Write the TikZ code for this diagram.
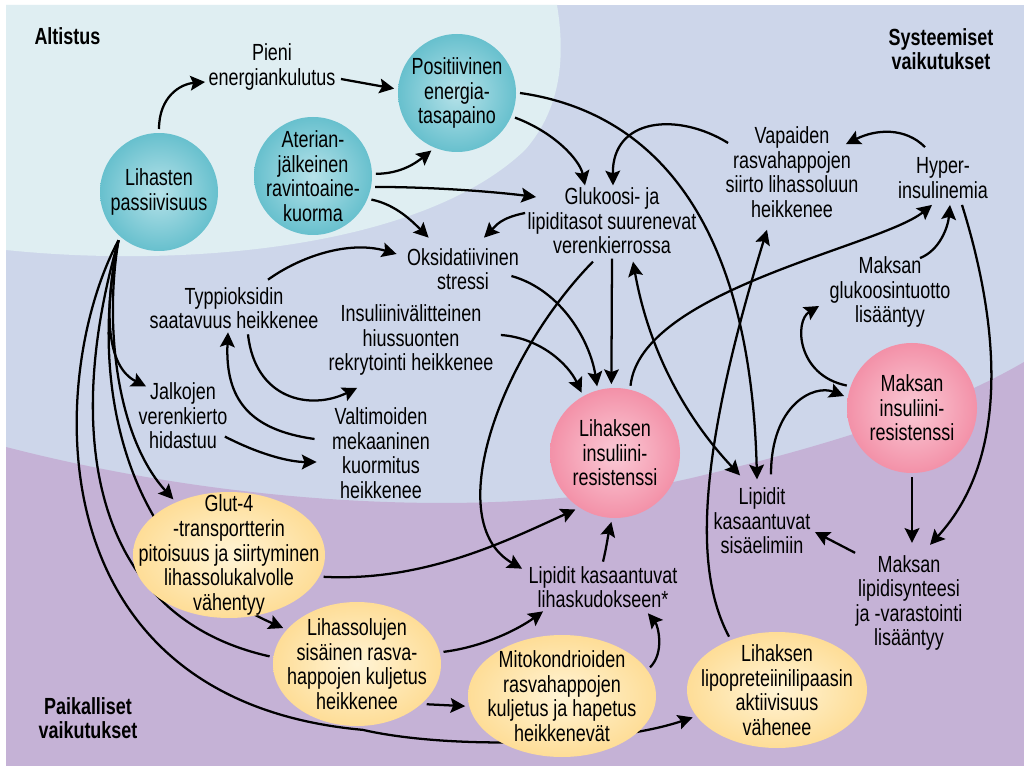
\documentclass[tikz,border=0pt]{standalone}
\usepackage{fontspec}
\setmainfont{Liberation Sans}[FakeStretch=0.77]
\usetikzlibrary{arrows.meta,shapes.geometric,calc}

\definecolor{bgcyan}{RGB}{223,238,242}
\definecolor{bgblue}{RGB}{205,214,234}
\definecolor{bgpurple}{RGB}{197,178,214}
\definecolor{tealin}{RGB}{182,226,233}
\definecolor{tealout}{RGB}{25,158,178}
\definecolor{pinkin}{RGB}{250,202,214}
\definecolor{pinkout}{RGB}{236,88,122}
\definecolor{yellin}{RGB}{255,244,214}
\definecolor{yellout}{RGB}{253,198,88}
\pgfdeclareradialshading{tealshade}{\pgfpoint{0bp}{0bp}}{color(0bp)=(tealin); color(50bp)=(tealout)}
\pgfdeclareradialshading{pinkshade}{\pgfpoint{0bp}{0bp}}{color(0bp)=(pinkin); color(50bp)=(pinkout)}
\pgfdeclareradialshading{yellshade}{\pgfpoint{0bp}{0bp}}{color(0bp)=(yellin); color(50bp)=(yellout)}
\pgfdeclarelayer{bg}
\pgfsetlayers{bg,main}

\tikzset{every picture/.style={line width=0.75pt},
  txt/.style={align=center, inner sep=0pt, font=\fontsize{17.5}{18.4}\selectfont},
  hdr/.style={txt, font=\fontsize{17.5}{18.4}\selectfont\bfseries},
  tealball/.style={circle, minimum size=88.5pt, outer sep=3pt, shading=tealshade},
  pinkball/.style={circle, minimum size=97.5pt, outer sep=3pt, shading=pinkshade},
  yellball/.style={ellipse, outer sep=3pt, shading=yellshade},
  connline/.style={line width=1.7pt},
  conn/.style={connline, -{Stealth[length=11pt,width=11pt,inset=2pt]}},
  conntwo/.style={connline, {Stealth[length=11pt,width=11pt,inset=2pt]}-{Stealth[length=11pt,width=11pt,inset=2pt]}}}

\begin{document}
\begin{tikzpicture}[x=0.75pt,y=0.75pt,yscale=-1,xscale=1]
	\useasboundingbox (0,0) rectangle (1024,766);
	
	% Balls
	\node[tealball, label={[txt]center:{Lihasten\\passiivisuus}}] (lp) at (159,192) {};
	\node[tealball, label={[txt]center:{Aterian-\\jälkeinen\\ravintoaine-\\kuorma}}] (ater) at (313,176) {};
	\node[tealball, label={[txt]center:{Positiivinen\\energia-\\tasapaino}}] (pos) at (457,93) {};
	\node[pinkball, label={[txt]center:{Lihaksen\\insuliini-\\resistenssi}}] (lir) at (615,453) {};
	\node[pinkball, label={[txt]center:{Maksan\\insuliini-\\resistenssi}}] (mir) at (912,408) {};
	% Ellipses
	\node[yellball, minimum width=144pt, minimum height=94.5pt, label={[txt]center:{Glut-4\\-transportterin\\pitoisuus ja siirtyminen\\lihassolukalvolle\\vähentyy}}] (glut) at (229,555) {};
	\node[yellball, minimum width=126pt, minimum height=93pt, label={[txt]center:{Lihassolujen\\sisäinen rasva-\\happojen kuljetus\\heikkenee}}] (lsol) at (357,664) {};
	\node[yellball, minimum width=141pt, minimum height=91.5pt, label={[txt]center:{Mitokondrioiden\\rasvahappojen\\kuljetus ja hapetus\\heikkenevät}}] (mito) at (562,696) {};
	\node[yellball, minimum width=135pt, minimum height=87pt, label={[txt]center:{Lihaksen\\lipopreteiinilipaasin\\aktiivisuus\\vähenee}}] (lpl) at (777,690) {};
	
	% Text Node
	\node[hdr, anchor=west] (altistus) at (34,36) {Altistus};
	\node[hdr] (syst) at (941,49) {Systeemiset\\vaikutukset};
	\node[hdr] (paik) at (88,718) {Paikalliset\\vaikutukset};
	\node[txt] (pieni) at (272,67) {Pieni\\energiankulutus};
	\node[txt] (glu) at (612,221) {Glukoosi- ja\\lipiditasot suurenevat\\verenkierrossa};
	\node[txt] (vapa) at (792,172) {Vapaiden\\rasvahappojen\\siirto lihassoluun\\heikkenee};
	\node[txt] (hyper) at (943,178) {Hyper-\\insulinemia};
	\node[txt] (oks) at (463,269) {Oksidatiivinen\\stressi};
	\node[txt] (typ) at (234,308) {Typpioksidin\\saatavuus heikkenee};
	\node[txt] (ins) at (411,340) {Insuliinivälitteinen\\hiussuonten\\rekrytointi heikkenee};
	\node[txt] (jalk) at (183,416) {Jalkojen\\verenkierto\\hidastuu};
	\node[txt] (valt) at (381,453) {Valtimoiden\\mekaaninen\\kuormitus\\heikkenee};
	\node[txt] (mglu) at (890,292) {Maksan\\glukoosintuotto\\lisääntyy};
	\node[txt] (lsis) at (762,521) {Lipidit\\kasaantuvat\\sisäelimiin};
	\node[txt] (llih) at (603,587) {Lipidit kasaantuvat\\lihaskudokseen*};
	\node[txt] (mlip) at (909,603) {Maksan\\lipidisynteesi\\ja -varastointi\\lisääntyy};
	
	\begin{pgfonlayer}{bg}
	% Background
	\fill[white] (0,0) rectangle (1024,766);
	\fill[bgblue] (6,5) rectangle (1024,766);
	\fill[bgcyan] (6,5) -- (6,250) .. controls (180,268) and (420,250) .. (525,150) .. controls (560,110) and (566,60) .. (557,5) -- cycle;
	\fill[bgpurple] (6,447) .. controls (250,510) and (520,520) .. (700,476) .. controls (850,440) and (950,405) .. (1024,362) -- (1024,766) -- (6,766) -- cycle;
	% Lines behind the ellipses
	\draw[conn] (lp.230) .. controls +(-30,140) and +(-160,-70) .. (lsol.154);
	\draw[connline] (lp.230) .. controls +(-55,190) and +(-180,-40) .. (lsol.175);
	\draw[conn] (lp.230) .. controls +(-70,130) and +(-333,-30) .. (lsol.-85) .. controls +(87,20) and +(-83,28) .. (lpl.198);
	\end{pgfonlayer}
	
	% Connectors
	\draw[conn] (lp.90) .. controls +(0,-32) and +(-25,2) .. ($(pieni.west)+(-3,15)$);
	\draw[conn] ($(pieni.east)+(5,12)$) -- (pos.176);
	\draw[conn] (ater.2) .. controls +(25,0) and +(-15,12) .. (pos.246);
	\draw[conn] (ater.-10) .. controls +(60,0) and +(-40,-5) .. ($(glu.west)+(9,-24)$);
	\draw[conn] (ater.-22) .. controls +(25,5) and +(-15,-15) .. ($(oks.north west)+(22,-10)$);
	\draw[conn] ($(glu.west)+(-2,-8)$) .. controls +(-25,5) and +(12,-12) .. ($(oks.north)+(21,-10)$);
	\draw[conn] (pos.-23) .. controls +(40,15) and +(-5,-25) .. ($(glu.north)+(-27,-2)$);
	\draw[conn] ($(vapa.west)+(3,-29)$) .. controls +(-50,-31) and +(-1,-68) .. ($(glu.north)+(1,-2)$);
	\draw[conn] (pos.0) .. controls +(120,17) and +(-7,-277) .. ($(lsis.north)+(-5,-8)$);
	\draw[conn] (lpl.132) .. controls +(-30,-57) and +(-77,250) .. ($(vapa.south)+(-25,12)$);
	\draw[conn] ($(hyper.north)+(-18,-10)$) .. controls +(-20,-20) and +(30,-15) .. ($(vapa.north east)+(-13,18)$);
	\draw[conn] ($(hyper.south)+(19,6)$) .. controls +(38,122) and +(80,-87) .. ($(mlip.north)+(21,-10)$);
	\draw[conn] ($(mglu.north)+(30,2)$) .. controls +(20,-8) and +(-2,22) .. ($(hyper.south)+(7,6)$);
	\draw[conn] (lir.77) .. controls +(10,-96) and +(-52,42) .. ($(hyper.south)+(-11,6)$);
	\draw[conn] (mir.161) .. controls +(-50,-10) and +(-25,15) .. ($(mglu.west)+(-10,14)$);
	\draw[conn] ($(lsis.north)+(9,-13)$) .. controls +(0,-70) and +(-30,-12) .. (mir.170);
	\draw[conn] (mir.-90) -- ($(mlip.north)+(3,-12)$);
	\draw[conn] ($(mlip.north west)+(0,-2)$) -- ($(lsis.east)+(4,11)$);
	\draw[conn] ($(glu.south)+(0,4)$) -- (lir.93);
	\draw[conntwo] ($(lsis.north west)+(27,-12)$) .. controls +(-50,-53) and +(17,95) .. ($(glu.south)+(21,7)$);
	\draw[conn] ($(glu.south)+(-19,7)$) .. controls +(-93,95) and +(-82,-47) .. ($(llih.north west)+(-6,3)$);
	\draw[conn] ($(oks.east)+(-8,7)$) .. controls +(50,14) and +(-7,-45) .. (lir.105);
	\draw[conn] ($(ins.east)+(7,-5)$) .. controls +(40,3) and +(-13,-28) .. (lir.119);
	\draw[conn] ($(typ.north)+(34,-7)$) .. controls +(32,-23) and +(-48,-14) .. ($(oks.west)+(-10,-15)$);
	\draw[conn] ($(typ.south)+(14,5)$) .. controls +(7,65) and +(-47,23) .. ($(ins.south west)+(29,12)$);
	\draw[conn] ($(valt.west)+(-17,-14)$) .. controls +(-65,-9) and +(-3,67) .. ($(typ.south)+(-6,3)$);
	\draw[conn] ($(jalk.south east)+(-3,-13)$) .. controls +(35,18) and +(-27,0) .. ($(valt.west)+(-15,9)$);
	\draw[conn] (lp.230) .. controls +(-15,70) and +(-40,-20) .. ($(jalk.north west)+(8,4)$);
	\draw[conn] (lp.230) .. controls +(-15,90) and +(-55,-60) .. (glut.135);
	\draw[conn] (glut.-13) .. controls +(100,5) and +(-70,32) .. (lir.235);
	\draw[conn] (lsol.8) .. controls +(40,-5) and +(-25,18) .. ($(llih.south west)+(15,3)$);
	\draw[conn] (lsol.-30) -- (mito.186);
	\draw[conn] (mito.18) .. controls +(15,-15) and +(10,12) .. ($(llih.south east)+(-30,5)$);
	\draw[conn] ($(llih.north)+(0,-4)$) .. controls +(3,-12) and +(-3,12) .. (lir.-93);
	
\end{tikzpicture}
\end{document}
